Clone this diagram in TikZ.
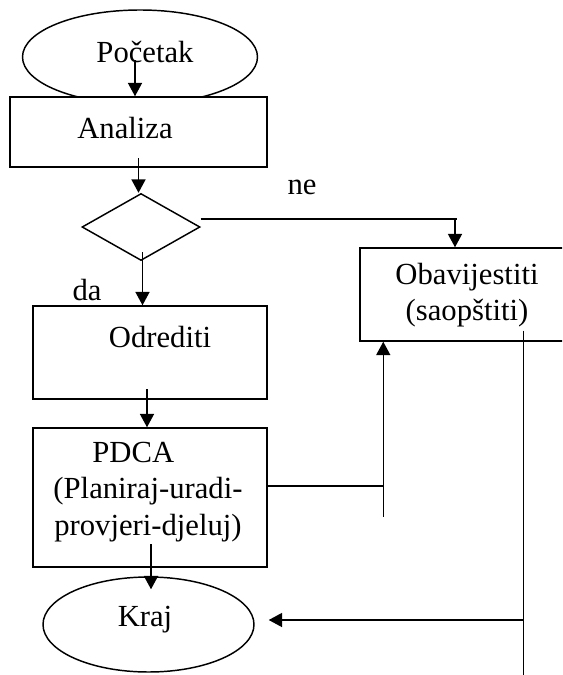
\documentclass[tikz,border=0pt]{standalone}
\usepackage{fontspec}
\setmainfont{Liberation Serif}
\usetikzlibrary{shapes.geometric,arrows.meta,calc}

\begin{document}
\begin{tikzpicture}[x=0.75pt,y=-0.75pt,line width=1.1pt,
	txt/.style={font=\fontsize{23}{27.5}\selectfont,inner sep=0pt,align=center},
	box/.style={draw,fill=white,rectangle,inner sep=0pt},
	oval/.style={draw,fill=white,ellipse,inner sep=0pt},
	flow/.style={-{Triangle[length=10pt,width=10.5pt]}}]
	
	% Define the page
	\useasboundingbox (0,0) rectangle (562,675);
	\clip (0,0) rectangle (562,675);
	
	% Draw the shapes
	\node[oval,minimum width=176.25pt,minimum height=70.5pt] (start) at (140,57) {};
	\node[box,minimum width=192.75pt,minimum height=52.5pt] (analiza) at (138.5,132) {};
	\node[draw,diamond,inner sep=0pt,minimum width=88.5pt,minimum height=50.25pt] (dec) at (141,227) {};
	\node[txt] (da) at (87,290) {da};
	\node[box,minimum width=175.5pt,minimum height=69.75pt] (odrediti) at (150,352.5) {};
	\node[box,minimum width=175.5pt,minimum height=104.25pt] (pdca) at (150,497.5) {};
	\node[box,minimum width=180pt,minimum height=69.75pt] (obav) at (480,294.5) {};
	\node[oval,minimum width=158.25pt,minimum height=71.25pt] (kraj) at (148.5,624.5) {};
	
	% Label the shapes
	\node[txt] (start-txt) at (145,52) {Početak};
	\node[txt] (analiza-txt) at (125,128) {Analiza};
	\node[txt] (ne) at (302,187) {ne};
	\node[txt] (odrediti-txt) at (160,337) {Odrediti};
	\node[txt,anchor=north] (pdca-txt) at (148,441) {PDCA\hspace*{22pt}\\(Planiraj-uradi-\\provjeri-djeluj)};
	\node[txt,anchor=north] (obav-txt) at (467,262) {Obavijestiti\\(saopštiti)};
	\node[txt] (kraj-txt) at (145,620) {Kraj};
	
	% Draw the main flow
	\draw[flow] (start.center) ++(-5,3) coordinate (p0) -- (p0 |- analiza.north);
	\draw[flow] (analiza.center) ++(0,26) coordinate (p1) -- (p1 |- dec.north);
	\draw[flow] (dec.center) ++(1.5,25) coordinate (p2) -- (p2 |- odrediti.north);
	\draw[flow] (odrediti.center) ++(-3,36.5) coordinate (p3) -- (p3 |- pdca.north);
	\draw[flow] (pdca.center) ++(1,46.5) coordinate (p4) -- ($(p4 |- kraj.north)+(0,13)$);
	
	% Draw the "ne" branch
	\coordinate (p5) at ($(dec.east)+(0,-8)$);
	\coordinate (p6) at ($(obav.north)+(-25,0)$);
	\draw (p5) -- ($(p6 |- p5)+(2,0)$);
	\draw[flow] (p6 |- p5) -- (p6);
	
	% Draw the feedback lines
	\coordinate (fb) at ($(obav.south west)+(24,0)$);
	\draw ($(pdca.east)+(0,-11.5)$) coordinate (p7) -- (p7 -| fb);
	\draw[flow] ($(fb)+(0,175)$) -- (fb);
	\coordinate (out) at ($(obav.south west)+(164,-11)$);
	\draw (out) -- ++(0,345);
	\coordinate (kin) at ($(kraj.east)+(14,-4.5)$);
	\draw[flow] (kin -| out) -- (kin);
	
\end{tikzpicture}
\end{document}
